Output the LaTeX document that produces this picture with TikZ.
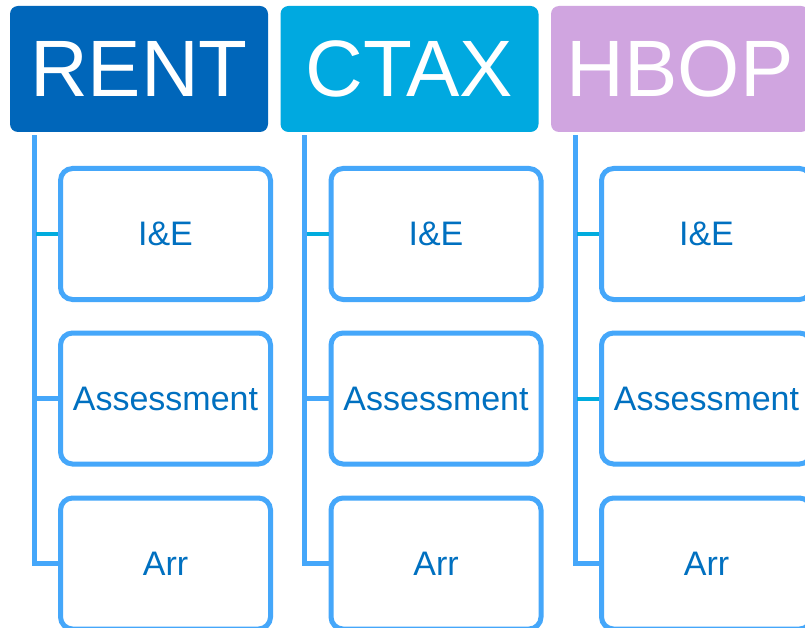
\documentclass[tikz,border=0pt]{standalone}
\usepackage{fontspec}
\setmainfont{Liberation Sans}
\usepackage{tikz}
\usetikzlibrary{arrows.meta}

\definecolor{rentblue}{HTML}{0066BA}
\definecolor{ctaxcyan}{HTML}{00A9E0}
\definecolor{hboplilac}{HTML}{D0A5E0}
\definecolor{boxline}{HTML}{45A7FA}
\definecolor{stubcyan}{HTML}{00ACDE}
\definecolor{boxtext}{HTML}{0070C0}

\tikzset{
  head/.style={rounded corners=8pt, minimum width=258pt, minimum height=126pt,
    text=white, font=\fontsize{80}{80}\selectfont, inner sep=0pt},
  task/.style={draw=boxline, line width=5pt, rounded corners=12pt, fill=white,
    minimum width=210pt, minimum height=131pt, text=boxtext,
    font=\fontsize{34}{34}\selectfont, inner sep=0pt},
  conn/.style={draw=boxline, line width=5pt},
  stub/.style={draw=stubcyan, line width=4pt}
}

\begin{document}
\begin{tikzpicture}[x=1pt, y=-1pt]
    \clip (0, 0) rectangle (805, 628);
    \fill[white] (0, 0) rectangle (805, 628);

    \node[head, fill=rentblue] (R) at (139, 69){RENT};
    \node[head, fill=ctaxcyan] (C) at (409.5, 69){CTAX};
    \node[head, fill=hboplilac] (H) at (680, 69){HBOP};

    \node[task] (R1) at (165.5, 234){I\&E};
    \node[task] (R2) at (165.5, 398.5){Assessment};
    \node[task] (R3) at (165.5, 563.5){Arr};
    \node[task] (C1) at (436, 234){I\&E};
    \node[task] (C2) at (436, 398.5){Assessment};
    \node[task] (C3) at (436, 563.5){Arr};
    \node[task] (H1) at (706.5, 234){I\&E};
    \node[task] (H2) at (706.5, 398.5){Assessment};
    \node[task] (H3) at (706.5, 563.5){Arr};

    \coordinate (Rt) at ([xshift=24.5pt, yshift=-3pt]R.south west);
    \coordinate (Ct) at ([xshift=24.5pt, yshift=-3pt]C.south west);
    \coordinate (Ht) at ([xshift=24.5pt, yshift=-3pt]H.south west);

    \draw[conn] (Rt) |- (R3.west);
    \draw[conn] (Ct) |- (C3.west);
    \draw[conn] (Ht) |- (H3.west);

    \draw[stub] ([xshift=2pt]Rt |- R1.west) -- (R1.west);
    \draw[conn] (Rt |- R2.west) -- (R2.west);
    \draw[stub] ([xshift=2pt]Ct |- C1.west) -- (C1.west);
    \draw[conn] (Ct |- C2.west) -- (C2.west);
    \draw[stub] ([xshift=2pt]Ht |- H1.west) -- (H1.west);
    \draw[stub] ([xshift=2pt]Ht |- H2.west) -- (H2.west);
  \end{tikzpicture}
\end{document}
